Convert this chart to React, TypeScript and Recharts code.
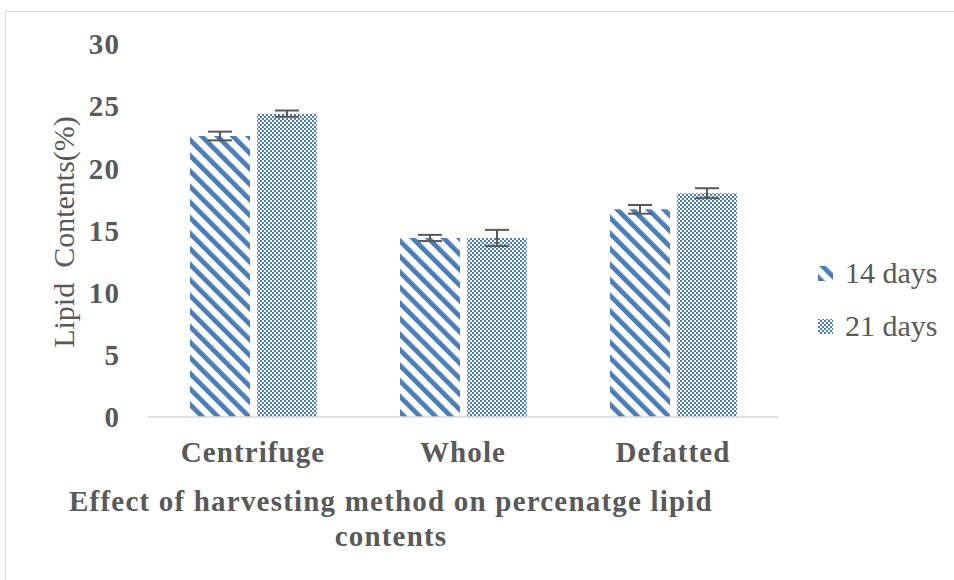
import React from 'react';
import { BarChart, Bar, XAxis, YAxis, ErrorBar, Legend } from 'recharts';

const categories = ['Centrifuge', 'Whole', 'Defatted'];
const days14 = [22.6, 14.4, 16.7];
const days21 = [24.4, 14.4, 18.0];
const err14 = [0.35, 0.25, 0.35];
const err21 = [0.25, 0.65, 0.4];
const yTicks = [0, 5, 10, 15, 20, 25, 30];

const data = categories.map((name, i) => ({
  name,
  d14: days14[i],
  d21: days21[i],
  e14: err14[i],
  e21: err21[i],
}));

const BLUE = '#4a7ebb';
const TEXT = '#595959';
const FONT = '"Liberation Serif", "Times New Roman", serif';

const legendItems = [
  { label: '14 days', fill: 'url(#stripes)' },
  { label: '21 days', fill: 'url(#checker)' },
];

const renderLegend = () => (
  <div style={{ fontFamily: FONT, fontSize: 30, color: TEXT }}>
    {legendItems.map((item) => (
      <div key={item.label} style={{ display: 'flex', alignItems: 'center', height: 53 }}>
        <svg width={16} height={16} style={{ marginRight: 11 }}>
          <rect x={0} y={1} width={15} height={15} fill={item.fill} />
        </svg>
        <span>{item.label}</span>
      </div>
    ))}
  </div>
);

const boldTick = {
  fill: TEXT,
  fontSize: 29,
  fontWeight: 'bold' as const,
  fontFamily: FONT,
  letterSpacing: 1.1,
};

export default function App() {
  return (
    <div style={{ position: 'absolute', left: 0, top: 0, width: 954, height: 580, background: '#fff' }}>
      <div
        style={{
          position: 'absolute',
          left: 5,
          top: 11,
          width: 960,
          height: 600,
          border: '1px solid #d9d9d9',
          boxSizing: 'border-box',
        }}
      />
      <BarChart
        width={954}
        height={580}
        data={data}
        margin={{ top: 44, right: 176, bottom: 133, left: 88 }}
        barGap={7}
        barSize={60}
        style={{ position: 'absolute', left: 0, top: 0 }}
      >
        <defs>
          <pattern id="stripes" patternUnits="userSpaceOnUse" width={11} height={11} patternTransform="rotate(-45)">
            <rect x={0} y={0} width={4.8} height={11} fill={BLUE} />
          </pattern>
          <pattern id="checker" patternUnits="userSpaceOnUse" width={4} height={4}>
            <rect x={0} y={0} width={2} height={2} fill={BLUE} />
            <rect x={2} y={2} width={2} height={2} fill={BLUE} />
          </pattern>
        </defs>
        <XAxis
          dataKey="name"
          height={30}
          tickLine={false}
          tickSize={0}
          tickMargin={24}
          axisLine={{ stroke: '#d9d9d9', strokeWidth: 1.5 }}
          tick={boldTick}
          interval={0}
          label={{
            content: () => (
              <text
                textAnchor="middle"
                fill={TEXT}
                fontSize={29}
                fontWeight="bold"
                fontFamily={FONT}
                letterSpacing={1.2}
              >
                <tspan x={391} y={511}>Effect of harvesting method on percenatge lipid</tspan>
                <tspan x={391} y={546}>contents</tspan>
              </text>
            ),
          }}
        />
        <YAxis
          domain={[0, 30]}
          ticks={yTicks}
          width={60}
          axisLine={false}
          tickLine={false}
          tickSize={0}
          tickMargin={28}
          tick={boldTick}
          label={{
            content: () => (
              <text
                x={63}
                y={232}
                transform="rotate(-90 63 232)"
                textAnchor="middle"
                dominantBaseline="central"
                fill={TEXT}
                fontSize={30}
                fontFamily={FONT}
                style={{ whiteSpace: 'pre' }}
              >
                Lipid  Contents(%)
              </text>
            ),
          }}
        />
        <Legend
          layout="vertical"
          align="center"
          verticalAlign="middle"
          content={renderLegend}
          wrapperStyle={{ left: 818, top: 246, width: 140 }}
        />
        <Bar dataKey="d14" name="14 days" fill="url(#stripes)" isAnimationActive={false}>
          <ErrorBar dataKey="e14" width={12} strokeWidth={2} stroke={TEXT} />
        </Bar>
        <Bar dataKey="d21" name="21 days" fill="url(#checker)" isAnimationActive={false}>
          <ErrorBar dataKey="e21" width={12} strokeWidth={2} stroke={TEXT} />
        </Bar>
      </BarChart>
    </div>
  );
}
